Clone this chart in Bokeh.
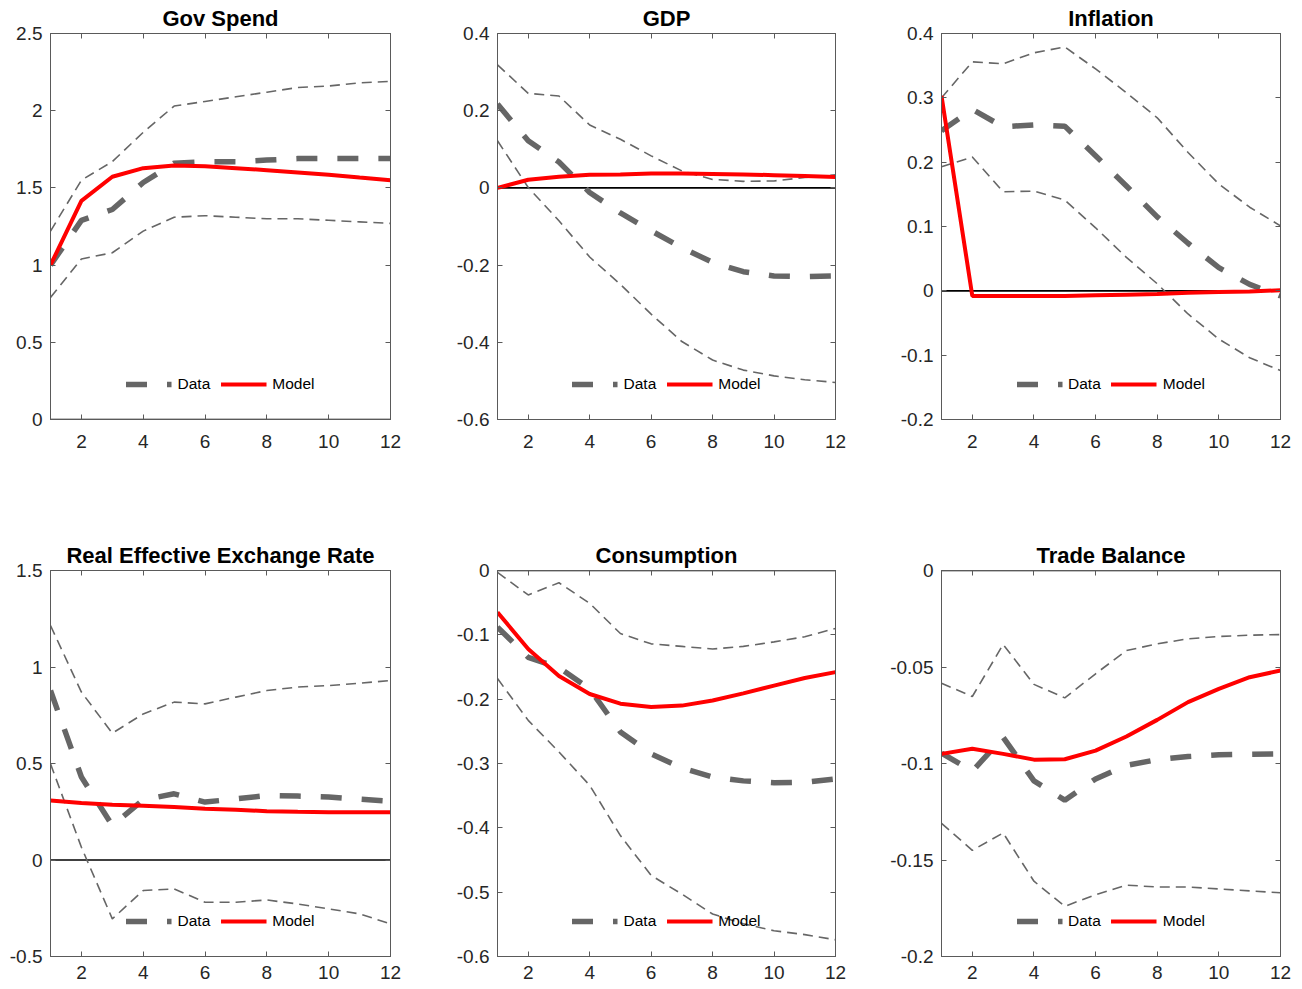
from bokeh.plotting import figure
from bokeh.models import (Range1d, FixedTicker, LinearAxis, Span, Legend, LegendItem,
                          CustomJSTickFormatter)
from bokeh.layouts import row, column
from bokeh.embed import file_html
from bokeh.resources import INLINE

horizon = [1, 2, 3, 4, 5, 6, 7, 8, 9, 10, 11, 12]
x_ticks = [2, 4, 6, 8, 10, 12]

# Gov Spend
gov_hi = [1.22, 1.55, 1.67, 1.86, 2.03, 2.06, 2.09, 2.12, 2.15, 2.16, 2.18, 2.19]
gov_lo = [0.79, 1.04, 1.08, 1.22, 1.31, 1.32, 1.31, 1.30, 1.30, 1.29, 1.28, 1.27]
gov_data = [1.0, 1.29, 1.36, 1.535, 1.66, 1.67, 1.67, 1.68, 1.69, 1.69, 1.69, 1.69]
gov_model = [1.0, 1.416, 1.572, 1.628, 1.645, 1.641, 1.628, 1.615, 1.60, 1.585, 1.567, 1.55]
gov_yticks = [0, 0.5, 1, 1.5, 2, 2.5]

# GDP
gdp_hi = [0.319, 0.245, 0.238, 0.163, 0.126, 0.083, 0.044, 0.022, 0.017, 0.018, 0.027, 0.034]
gdp_lo = [0.122, 0.001, -0.085, -0.179, -0.25, -0.327, -0.398, -0.446, -0.472, -0.487, -0.497, -0.504]
gdp_data = [0.217, 0.122, 0.067, -0.012, -0.065, -0.111, -0.155, -0.193, -0.217, -0.228, -0.23, -0.228]
gdp_model = [0.0, 0.021, 0.029, 0.034, 0.035, 0.037, 0.037, 0.036, 0.035, 0.033, 0.031, 0.028]
gdp_yticks = [-0.6, -0.4, -0.2, 0, 0.2, 0.4]

# Inflation
infl_hi = [0.30, 0.356, 0.353, 0.37, 0.379, 0.345, 0.308, 0.269, 0.215, 0.166, 0.130, 0.101]
infl_lo = [0.193, 0.208, 0.154, 0.155, 0.141, 0.098, 0.052, 0.011, -0.036, -0.075, -0.104, -0.124]
infl_data = [0.249, 0.282, 0.255, 0.258, 0.256, 0.21, 0.163, 0.115, 0.074, 0.036, 0.01, -0.008]
infl_model = [0.303, -0.008, -0.008, -0.008, -0.008, -0.007, -0.006, -0.005, -0.003, -0.002, -0.001, 0.001]
infl_yticks = [-0.2, -0.1, 0, 0.1, 0.2, 0.3, 0.4]

# Real Effective Exchange Rate
reer_hi = [1.215, 0.87, 0.657, 0.757, 0.818, 0.809, 0.844, 0.878, 0.896, 0.904, 0.916, 0.93]
reer_lo = [0.498, 0.066, -0.305, -0.158, -0.15, -0.219, -0.219, -0.207, -0.228, -0.253, -0.279, -0.331]
reer_data = [0.878, 0.43, 0.179, 0.312, 0.343, 0.30, 0.317, 0.334, 0.331, 0.326, 0.315, 0.305]
reer_model = [0.308, 0.295, 0.286, 0.281, 0.274, 0.265, 0.26, 0.253, 0.25, 0.248, 0.248, 0.248]
reer_yticks = [-0.5, 0, 0.5, 1, 1.5]

# Consumption
cons_hi = [-0.003, -0.038, -0.019, -0.051, -0.098, -0.114, -0.118, -0.122, -0.118, -0.111, -0.103, -0.09]
cons_lo = [-0.168, -0.233, -0.282, -0.334, -0.412, -0.474, -0.503, -0.534, -0.549, -0.56, -0.566, -0.574]
cons_data = [-0.088, -0.135, -0.151, -0.184, -0.251, -0.285, -0.307, -0.321, -0.327, -0.33, -0.329, -0.324]
cons_model = [-0.065, -0.122, -0.164, -0.192, -0.207, -0.212, -0.21, -0.202, -0.191, -0.179, -0.167, -0.158]
cons_yticks = [-0.6, -0.5, -0.4, -0.3, -0.2, -0.1, 0]

# Trade Balance
tb_hi = [-0.0584, -0.0653, -0.0383, -0.059, -0.066, -0.0535, -0.0415, -0.038, -0.0354, -0.0342, -0.0335, -0.0332]
tb_lo = [-0.131, -0.145, -0.136, -0.161, -0.174, -0.168, -0.163, -0.164, -0.164, -0.165, -0.166, -0.167]
tb_data = [-0.0946, -0.104, -0.0864, -0.109, -0.119, -0.108, -0.101, -0.098, -0.0964, -0.0955, -0.0952, -0.095]
tb_model = [-0.095, -0.0924, -0.095, -0.098, -0.0978, -0.0933, -0.086, -0.0774, -0.0682, -0.0613, -0.0553, -0.0518]
tb_yticks = [-0.2, -0.15, -0.1, -0.05, 0]

FONT = "Liberation Sans"
AX = "#5a5a5a"
TXT = "#262626"
GRAY = "#666666"
RED = "#ff0000"

FMT = "return String(Math.round(tick*10000)/10000);"
BLANK = "return '';"


def style_axis(ax, ticks, show_labels, standoff):
    ax.ticker = FixedTicker(ticks=ticks)
    ax.axis_line_color = AX
    ax.axis_line_width = 1
    ax.major_tick_line_color = AX
    ax.major_tick_in = 5
    ax.major_tick_out = 0
    ax.minor_tick_line_color = None
    ax.axis_label = None
    if show_labels:
        ax.formatter = CustomJSTickFormatter(code=FMT)
        ax.major_label_text_font = FONT
        ax.major_label_text_font_size = "19px"
        ax.major_label_text_color = TXT
        ax.major_label_standoff = standoff
    else:
        ax.formatter = CustomJSTickFormatter(code=BLANK)
        ax.major_label_text_font_size = "1px"
        ax.major_label_text_color = None
        ax.major_label_standoff = 0


def panel(title, hi, lo, data, model, ymin, ymax, yticks, width, height,
          left, right, top, bottom, xstand):
    p = figure(width=width, height=height, x_range=Range1d(1, 12),
               y_range=Range1d(ymin, ymax), output_backend="svg",
               toolbar_location=None, x_axis_type=None, y_axis_type=None,
               min_border_left=left, min_border_right=right,
               min_border_top=top, min_border_bottom=bottom,
               background_fill_color="white", border_fill_color="white")
    p.outline_line_color = AX
    p.outline_line_width = 1

    p.title.text = title
    p.title.text_font = FONT
    p.title.text_font_size = "22px"
    p.title.text_font_style = "bold"
    p.title.text_color = "black"
    p.title.align = "center"
    p.title.standoff = 5

    xb = LinearAxis()
    style_axis(xb, x_ticks, True, xstand)
    p.add_layout(xb, "below")
    yl = LinearAxis()
    style_axis(yl, yticks, True, 8)
    p.add_layout(yl, "left")
    xa = LinearAxis()
    style_axis(xa, x_ticks, False, 0)
    p.add_layout(xa, "above")
    yr = LinearAxis()
    style_axis(yr, yticks, False, 0)
    p.add_layout(yr, "right")

    p.add_layout(Span(location=0, dimension="width", line_color="black",
                      line_width=1.6, level="underlay"))

    p.line(horizon, hi, line_color=GRAY, line_width=1.6, line_dash="10 6")
    p.line(horizon, lo, line_color=GRAY, line_width=1.6, line_dash="10 6")
    r_data = p.line(horizon, data, line_color=GRAY, line_width=5.5, line_dash="21 20")
    r_model = p.line(horizon, model, line_color=RED, line_width=4)

    leg = Legend(items=[LegendItem(label="Data", renderers=[r_data]),
                        LegendItem(label="Model", renderers=[r_model])],
                 location="bottom_center", orientation="horizontal",
                 background_fill_alpha=0, border_line_alpha=0,
                 label_text_font=FONT, label_text_font_size="15.5px",
                 label_text_color="black",
                 glyph_width=46, glyph_height=20, label_standoff=6,
                 spacing=10, padding=0, margin=25)
    p.add_layout(leg)
    return p


widths = [453, 434, 415]
lefts = [50, 43, 54]
rights = [63, 52, 22]
H1, T1, B1, XS1 = 537, 33, 118, 15
H2, T2, B2, XS2 = 452, 33, 33, 9

top_row = row(
    panel("Gov Spend", gov_hi, gov_lo, gov_data, gov_model, 0, 2.5, gov_yticks,
          widths[0], H1, lefts[0], rights[0], T1, B1, XS1),
    panel("GDP", gdp_hi, gdp_lo, gdp_data, gdp_model, -0.6, 0.4, gdp_yticks,
          widths[1], H1, lefts[1], rights[1], T1, B1, XS1),
    panel("Inflation", infl_hi, infl_lo, infl_data, infl_model, -0.2, 0.4, infl_yticks,
          widths[2], H1, lefts[2], rights[2], T1, B1, XS1),
)
bottom_row = row(
    panel("Real Effective Exchange Rate", reer_hi, reer_lo, reer_data, reer_model,
          -0.5, 1.5, reer_yticks, widths[0], H2, lefts[0], rights[0], T2, B2, XS2),
    panel("Consumption", cons_hi, cons_lo, cons_data, cons_model, -0.6, 0, cons_yticks,
          widths[1], H2, lefts[1], rights[1], T2, B2, XS2),
    panel("Trade Balance", tb_hi, tb_lo, tb_data, tb_model, -0.2, 0, tb_yticks,
          widths[2], H2, lefts[2], rights[2], T2, B2, XS2),
)

layout = column(top_row, bottom_row)

with open("out.html", "w") as f:
    f.write(file_html(layout, INLINE))
